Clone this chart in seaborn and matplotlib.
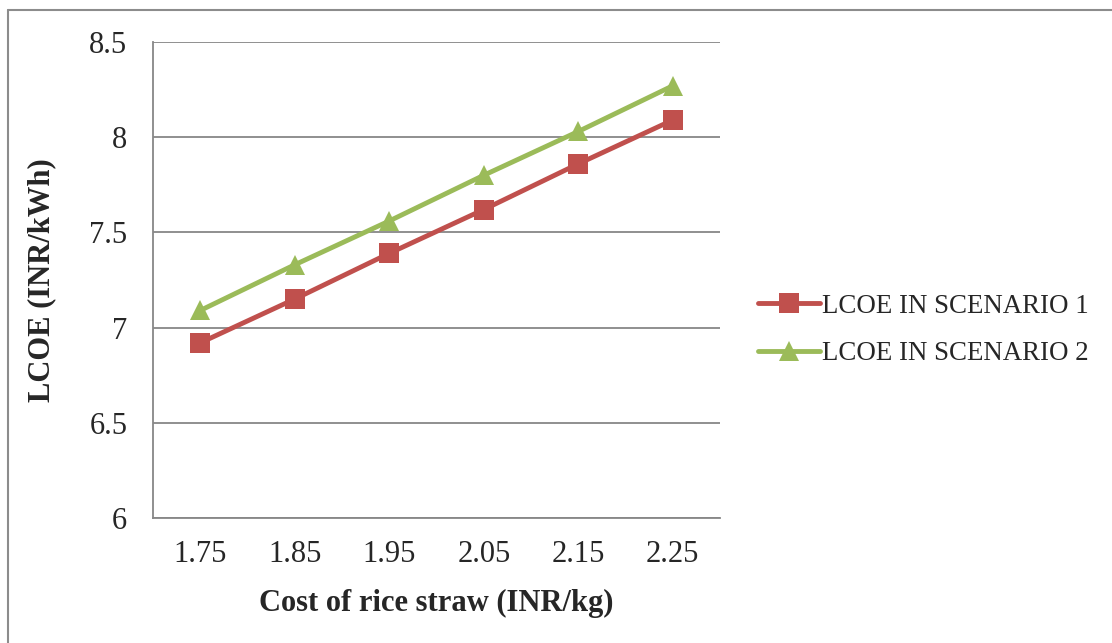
import matplotlib
matplotlib.use("Agg")
import matplotlib.pyplot as plt
import seaborn as sns
import pandas as pd
from matplotlib.lines import Line2D

categories = ["1.75", "1.85", "1.95", "2.05", "2.15", "2.25"]
scenario1 = [6.92, 7.15, 7.39, 7.62, 7.86, 8.09]
scenario2 = [7.09, 7.33, 7.56, 7.80, 8.03, 8.27]
series_names = ["LCOE IN SCENARIO 1", "LCOE IN SCENARIO 2"]
yticks = [6, 6.5, 7, 7.5, 8, 8.5]
ytick_labels = ["6", "6.5", "7", "7.5", "8", "8.5"]

sns.set_style("white")
plt.rcParams['font.family'] = ['Liberation Serif', 'DejaVu Serif']

df = pd.DataFrame({
    "cost": categories * 2,
    "pos": list(range(len(categories))) * 2,
    "lcoe": scenario1 + scenario2,
    "series": [series_names[0]] * len(categories) + [series_names[1]] * len(categories),
})

W, H = 1112, 643
fig = plt.figure(figsize=(W / 100, H / 100), dpi=100)
ax = fig.add_axes([153 / W, 1 - 518 / H, (720 - 153) / W, (518 - 42) / H])

colors = {series_names[0]: "#C0504D", series_names[1]: "#9BBB59"}
markers = {series_names[0]: "s", series_names[1]: "^"}
sns.lineplot(data=df, x="pos", y="lcoe", hue="series", style="series",
             palette=colors, markers=markers, dashes=False, ax=ax,
             linewidth=3.5, markersize=14, markeredgewidth=0, legend=False)

grid_c = "#878787"
ax.set_xlim(-0.5, len(categories) - 0.5)
ax.set_ylim(6, 8.5)
ax.set_yticks(yticks)
ax.set_yticklabels(ytick_labels)
ax.yaxis.grid(True, color=grid_c, linewidth=1.3)
ax.set_axisbelow(True)
ax.set_xticks(range(len(categories)))
ax.set_xticklabels(categories)
ax.set_xticks([i - 0.5 for i in range(len(categories) + 1)], minor=True)
ax.tick_params(axis="x", which="major", length=0, pad=16, labelsize=22)
ax.tick_params(axis="x", which="minor", length=7, width=1.3, color=grid_c, direction="out")
ax.tick_params(axis="y", which="major", length=7, width=1.3, color=grid_c, direction="out",
               pad=11.5, labelsize=22)
for s in ["top", "right"]:
    ax.spines[s].set_visible(False)
for s in ["left", "bottom"]:
    ax.spines[s].set_color(grid_c)
    ax.spines[s].set_linewidth(1.3)

ax.set_xlabel("Cost of rice straw (INR/kg)", fontsize=22, fontweight="bold", labelpad=14)
ax.set_ylabel("LCOE (INR/kWh)", fontsize=22, fontweight="bold", labelpad=24)

handles = [Line2D([0], [0], color=colors[n], marker=markers[n], linewidth=3.5,
                  markersize=14, markeredgewidth=0) for n in series_names]
fig.legend(handles, series_names, loc="center left", bbox_to_anchor=(745 / W, 1 - 330 / H),
           frameon=False, fontsize=19.4, handlelength=2.3, handletextpad=0.05,
           labelspacing=0.85, borderpad=0)

# figure border (left and top)
fig.add_artist(Line2D([8 / W, 8 / W], [0, 1 - 10 / H], color="#8c8c8c", linewidth=1.5,
                      transform=fig.transFigure))
fig.add_artist(Line2D([8 / W, 1], [1 - 10 / H, 1 - 10 / H], color="#8c8c8c", linewidth=1.5,
                      transform=fig.transFigure))

fig.savefig("out.png", dpi=100)
